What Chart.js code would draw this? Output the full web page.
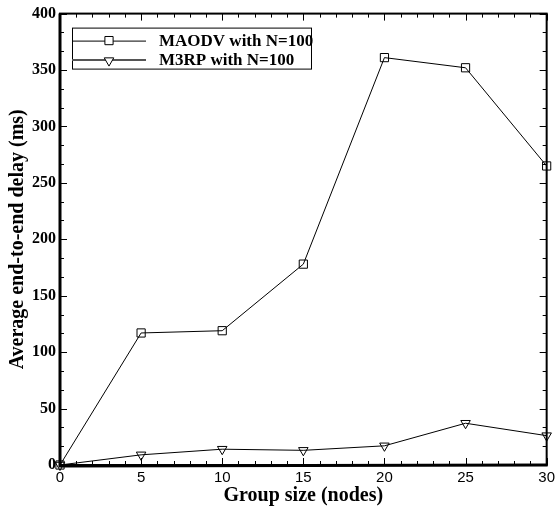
<!DOCTYPE html>
<html>
<head>
<meta charset="utf-8">
<script src="https://cdn.jsdelivr.net/npm/chart.js@4"></script>
<style>
  html, body { margin: 0; padding: 0; background: #fff; }
  #wrap { width: 559px; height: 506px; }
</style>
</head>
<body>
<div id="wrap"><canvas id="delayChart" width="559" height="506"></canvas></div>
<script>
// chart data
const groupSizes = [0, 5, 10, 15, 20, 25, 30];
const maodvDelay = [0, 117, 119, 178, 361, 352, 265];
const m3rpDelay = [0, 9, 14, 13, 17, 37, 26];
const yTicks = [0, 50, 100, 150, 200, 250, 300, 350, 400];
const xTickLabels = [0, 5, 10, 15, 20, 25, 30];

const serif = '"Liberation Serif", "Times New Roman", serif';

function toPoints(values) {
    return groupSizes.map((x, i) => ({ x: x, y: values[i] }));
}

// inward ticks on all four sides, frame, legend box and axis titles
const framePlugin = {
    id: 'frame',
    afterDraw(chart) {
        const ctx = chart.ctx;
        const a = chart.chartArea;
        const xs = chart.scales.x, ys = chart.scales.y;
        ctx.save();
        ctx.strokeStyle = '#000';

        // minor + major ticks
        ctx.lineWidth = 1;
        ctx.beginPath();
        for (let v = 0; v <= 30; v++) {
            const px = Math.round(xs.getPixelForValue(v)) + 0.5;
            const len = v % 5 === 0 ? 7 : 4;
            ctx.moveTo(px, a.bottom); ctx.lineTo(px, a.bottom - len);
            ctx.moveTo(px, a.top); ctx.lineTo(px, a.top + len);
        }
        for (let k = 0; k <= 24; k++) {
            const v = k * 50 / 3;
            const py = Math.round(ys.getPixelForValue(v)) + 0.5;
            const len = k % 3 === 0 ? 7 : 4;
            ctx.moveTo(a.left, py); ctx.lineTo(a.left + len, py);
            ctx.moveTo(a.right, py); ctx.lineTo(a.right - len, py);
        }
        ctx.stroke();

        // frame
        ctx.lineWidth = 2;
        ctx.strokeRect(a.left, a.top, a.right - a.left, a.bottom - a.top);
        ctx.lineWidth = 3;
        ctx.beginPath();
        ctx.moveTo(a.left, a.top); ctx.lineTo(a.left, a.bottom + 1);
        ctx.lineTo(a.right + 1, a.bottom);
        ctx.stroke();

        // legend
        const lx = a.left + 12, ly = a.top + 14, lw = 239, lh = 41;
        ctx.lineWidth = 1;
        ctx.strokeRect(lx + 0.5, ly + 0.5, lw, lh);
        const rows = chart.data.datasets;
        rows.forEach((ds, i) => {
            const cy = ly + 13 + i * 19;
            ctx.strokeStyle = i === 0 ? '#000' : '#555';
            ctx.lineWidth = i === 0 ? 1 : 2;
            ctx.beginPath();
            ctx.moveTo(lx, cy + 0.5); ctx.lineTo(lx + 74, cy + 0.5);
            ctx.stroke();
            ctx.strokeStyle = '#000';
            ctx.lineWidth = 1;
            ctx.fillStyle = '#fff';
            Chart.helpers.drawPoint(ctx, {
                pointStyle: ds.pointStyle,
                rotation: ds.pointRotation,
                radius: ds.pointRadius,
                borderWidth: 1
            }, lx + 37, cy + (i === 1 ? 1 : 0));
            ctx.fillStyle = '#000';
            ctx.font = 'bold 17px ' + serif;
            ctx.textAlign = 'left';
            ctx.textBaseline = 'middle';
            ctx.fillText(ds.label, lx + 87, cy + 1);
        });

        // axis titles
        ctx.fillStyle = '#000';
        ctx.font = 'bold 20px ' + serif;
        ctx.textAlign = 'center';
        ctx.textBaseline = 'middle';
        ctx.fillText('Group size (nodes)', (a.left + a.right) / 2, 496);
        ctx.translate(18, (a.top + a.bottom) / 2);
        ctx.rotate(-Math.PI / 2);
        ctx.fillText('Average end-to-end delay (ms)', 0, 0);
        ctx.restore();
    }
};

const chart = new Chart(document.getElementById('delayChart').getContext('2d'), {
    type: 'line',
    data: {
        datasets: [{
            label: 'MAODV with N=100',
            data: toPoints(maodvDelay),
            borderColor: '#000',
            borderWidth: 1,
            pointStyle: 'rect',
            pointRadius: 5.8,
            pointRotation: 0,
            pointBorderColor: '#000',
            pointBackgroundColor: 'rgba(0,0,0,0)',
            pointBorderWidth: 1,
            tension: 0
        }, {
            label: 'M3RP with N=100',
            data: toPoints(m3rpDelay),
            borderColor: '#000',
            borderWidth: 1,
            pointStyle: 'triangle',
            pointRadius: 5.5,
            pointRotation: 180,
            pointBorderColor: '#000',
            pointBackgroundColor: 'rgba(0,0,0,0)',
            pointBorderWidth: 1,
            tension: 0
        }]
    },
    options: {
        responsive: false,
        animation: false,
        clip: false,
        layout: { padding: { top: 13, right: 9, left: 0, bottom: 0 } },
        plugins: {
            legend: { display: false },
            tooltip: { enabled: false }
        },
        scales: {
            x: {
                type: 'linear',
                min: 0,
                max: 30,
                afterBuildTicks(scale) {
                    scale.ticks = xTickLabels.map(v => ({ value: v }));
                },
                afterFit(scale) { scale.height = 41; },
                grid: { display: false, drawTicks: false },
                border: { display: false },
                ticks: {
                    color: '#000',
                    padding: 4,
                    font: { family: '"Liberation Sans", Arial, sans-serif', size: 15 }
                }
            },
            y: {
                min: 0,
                max: 400,
                afterBuildTicks(scale) {
                    scale.ticks = yTicks.map(v => ({ value: v }));
                },
                afterFit(scale) { scale.width = 60; },
                grid: { display: false, drawTicks: false },
                border: { display: false },
                ticks: {
                    color: '#000',
                    padding: 4,
                    font: { family: serif, size: 16, weight: 'bold' }
                }
            }
        }
    },
    plugins: [framePlugin]
});
</script>
</body>
</html>
